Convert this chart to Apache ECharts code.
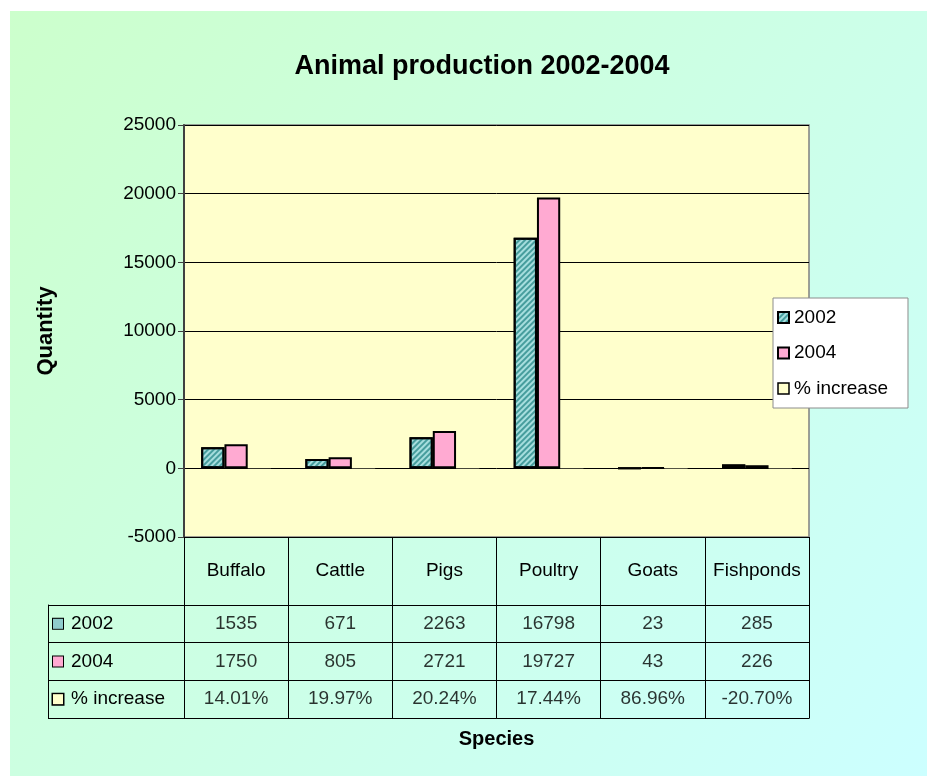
<!DOCTYPE html>
<html><head><meta charset="utf-8">
<script src="https://cdn.jsdelivr.net/npm/echarts@6/dist/echarts.min.js"></script>
<style>html,body{margin:0;padding:0;background:#fff}#c{width:927px;height:776px}</style>
</head><body><div id="c"></div>
<script>
var species = ['Buffalo', 'Cattle', 'Pigs', 'Poultry', 'Goats', 'Fishponds'];
var v2002 = [1535, 671, 2263, 16798, 23, 285];
var v2004 = [1750, 805, 2721, 19727, 43, 226];
var pctIncrease = [14.01, 19.97, 20.24, 17.44, 86.96, -20.70];
var seriesNames = ['2002', '2004', '% increase'];
var yTicks = { min: -5000, max: 25000, interval: 5000 };

var FONT = '"Liberation Sans", Arial, sans-serif';
var FS = 19;
var C2002 = '#a6dede', C2004 = '#ffaad2', CPCT = '#ffffcc';
var decal2002 = { symbol: 'rect', symbolSize: 1, color: 'rgba(30,130,130,0.7)', dashArrayX: [1, 0], dashArrayY: [1.5, 2], rotation: -Math.PI / 4 };

function fmtPct(v) { return v.toFixed(2) + '%'; }
var rowTexts = [
  v2002.map(String),
  v2004.map(String),
  pctIncrease.map(fmtPct)
];

var chart = echarts.init(document.getElementById('c'), null, { renderer: 'canvas' });

var cellSeries = rowTexts.map(function (row, r) {
  return {
    type: 'scatter', xAxisIndex: 1, yAxisIndex: 1, symbolSize: 1,
    itemStyle: { color: 'transparent' }, silent: true, legendHoverLink: false,
    data: row.map(function (t, i) { return [i, r, t]; }),
    label: { show: true, position: 'inside', color: '#000', textBorderWidth: 0, textBorderColor: 'transparent',
      fontFamily: FONT, fontSize: FS,
      formatter: function (p) { return p.value[2]; } }
  };
});

var option = {
  backgroundColor: '#ffffff',
  animation: false,
  graphic: [{
    type: 'rect', z: -10, silent: true,
    shape: { x: 10, y: 11, width: 917, height: 765 },
    style: { fill: new echarts.graphic.LinearGradient(0, 0, 1, 1, [
      { offset: 0, color: '#ccffcc' }, { offset: 1, color: '#ccffff' }]) }
  }],
  title: {
    text: 'Animal production 2002-2004', left: 477, top: 48, textAlign: 'center',
    textStyle: { fontFamily: FONT, fontSize: 27, fontWeight: 'bold', color: '#000' }
  },
  legend: {
    orient: 'vertical', left: 773, top: 298,
    backgroundColor: '#ffffff', borderColor: '#8c8c8c', borderWidth: 1,
    padding: [10, 20, 10, 4], itemGap: 16.5, itemWidth: 11, itemHeight: 11,
    textStyle: { fontFamily: FONT, fontSize: FS, color: '#000' },
    data: [
      { name: seriesNames[0], icon: 'rect' },
      { name: seriesNames[1], icon: 'rect' },
      { name: seriesNames[2], icon: 'rect', itemStyle: { color: CPCT, borderColor: '#000', borderWidth: 1.5 } }
    ]
  },
  grid: [
    { left: 184, top: 125, width: 625, height: 412, show: true, backgroundColor: '#ffffcc', borderColor: '#808080', borderWidth: 1.5 },
    { left: 184, top: 605, width: 625, height: 113, show: false }
  ],
  xAxis: [
    { type: 'category', gridIndex: 0, data: species,
      axisLine: { show: true, onZero: false, lineStyle: { color: '#000', width: 1 } },
      axisTick: { show: true, length: 68, interval: 0, alignWithLabel: false, lineStyle: { color: '#000', width: 1 } },
      axisLabel: { margin: 34, verticalAlign: 'middle', interval: 0, color: '#000', fontFamily: FONT, fontSize: FS },
      splitLine: { show: false } },
    { type: 'category', gridIndex: 1, data: species, position: 'top',
      axisLine: { show: true, lineStyle: { color: '#000', width: 1 } },
      axisTick: { show: false }, axisLabel: { show: false },
      splitLine: { show: true, interval: 0, lineStyle: { color: '#000', width: 1 } } },
    { type: 'category', gridIndex: 1, data: species, position: 'bottom',
      axisLine: { show: true, lineStyle: { color: '#000', width: 1 } },
      axisTick: { show: false }, axisLabel: { show: false },
      name: 'Species', nameLocation: 'middle', nameGap: 11,
      nameTextStyle: { fontFamily: FONT, fontSize: 20, fontWeight: 'bold', color: '#000' } }
  ],
  yAxis: [
    { type: 'value', gridIndex: 0, min: yTicks.min, max: yTicks.max, interval: yTicks.interval,
      axisLine: { show: true, lineStyle: { color: '#404040', width: 2 } },
      axisTick: { show: true, length: 6, lineStyle: { color: '#404040', width: 1 } },
      axisLabel: { margin: 8, color: '#000', fontFamily: FONT, fontSize: FS, formatter: function (v) { return String(v); } },
      splitLine: { show: true, lineStyle: { color: '#000', width: 1 } },
      name: 'Quantity', nameLocation: 'middle', nameGap: 127, nameRotate: 90,
      nameTextStyle: { fontFamily: FONT, fontSize: 22, fontWeight: 'bold', color: '#000' } },
    { type: 'category', gridIndex: 1, data: seriesNames, inverse: true,
      axisLine: { show: true, lineStyle: { color: '#000', width: 1 } },
      axisTick: { show: true, length: 136, interval: 0, alignWithLabel: false, lineStyle: { color: '#000', width: 1 } },
      axisLabel: { margin: 131, align: 'left', interval: 0, color: '#000', fontFamily: FONT, fontSize: FS,
        formatter: function (v, i) { return '{s' + i + '|}{sp|}' + v; },
        rich: {
          s0: { width: 10, height: 10, backgroundColor: '#8fcccc', borderColor: '#000', borderWidth: 1 },
          s1: { width: 10, height: 10, backgroundColor: C2004, borderColor: '#000', borderWidth: 1 },
          s2: { width: 10, height: 10, backgroundColor: CPCT, borderColor: '#000', borderWidth: 1.5 },
          sp: { width: 8 }
        } },
      splitLine: { show: true, interval: 0, lineStyle: { color: '#000', width: 1 } } },
    { type: 'category', gridIndex: 1, data: seriesNames, position: 'left', offset: 136,
      axisLine: { show: true, lineStyle: { color: '#000', width: 1 } },
      axisTick: { show: false }, axisLabel: { show: false } },
    { type: 'category', gridIndex: 1, data: seriesNames, position: 'right',
      axisLine: { show: true, lineStyle: { color: '#000', width: 1 } },
      axisTick: { show: false }, axisLabel: { show: false } }
  ],
  series: [
    { name: seriesNames[0], type: 'bar', xAxisIndex: 0, yAxisIndex: 0, data: v2002,
      barGap: '0%', barCategoryGap: '33%',
      itemStyle: { color: C2002, borderColor: '#000', borderWidth: 2, decal: decal2002 } },
    { name: seriesNames[1], type: 'bar', xAxisIndex: 0, yAxisIndex: 0, data: v2004,
      itemStyle: { color: C2004, borderColor: '#000', borderWidth: 2 } },
    { name: seriesNames[2], type: 'bar', xAxisIndex: 0, yAxisIndex: 0, data: pctIncrease,
      itemStyle: { color: CPCT, borderColor: '#000', borderWidth: 0 } }
  ].concat(cellSeries)
};
chart.setOption(option);
</script></body></html>
